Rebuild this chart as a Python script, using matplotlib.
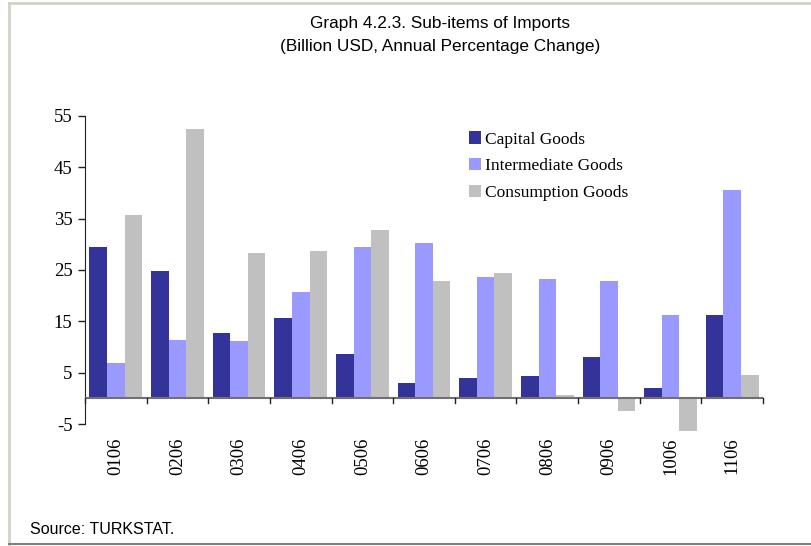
import numpy as np
import matplotlib
matplotlib.use("Agg")
import matplotlib.pyplot as plt
from matplotlib.lines import Line2D

months = ["0106", "0206", "0306", "0406", "0506", "0606",
          "0706", "0806", "0906", "1006", "1106"]
capital = [29.5, 24.8, 12.8, 15.7, 8.7, 3.0, 4.0, 4.4, 8.1, 2.1, 16.3]
intermediate = [6.9, 11.4, 11.2, 20.6, 29.5, 30.3, 23.7, 23.3, 22.9, 16.3, 40.6]
consumption = [35.7, 52.5, 28.3, 28.7, 32.8, 22.9, 24.4, 0.7, -2.4, -6.3, 4.6]

series = [("Capital Goods", capital, "#333399"),
          ("Intermediate Goods", intermediate, "#9999FF"),
          ("Consumption Goods", consumption, "#C0C0C0")]

serif = ["Liberation Serif", "DejaVu Serif"]
narrow = ["Liberation Sans Narrow", "Liberation Sans", "DejaVu Sans"]

fig = plt.figure(figsize=(8.12, 5.46), dpi=100)
ax = fig.add_axes([0.1047, 0.2234, 0.835, 0.5646])

x = np.arange(len(months))
w = 0.285
for i, (name, vals, col) in enumerate(series):
    ax.bar(x + (i - 1) * w, vals, width=w, color=col, label=name,
           zorder=2, clip_on=False)

ax.set_xlim(-0.5, len(months) - 0.5)
ax.set_ylim(-5, 55)
ax.set_yticks(range(-5, 56, 10))
ax.set_yticklabels([str(v) for v in range(-5, 56, 10)], family=serif, fontsize=13.5)
ax.tick_params(axis="y", length=5, width=1, color="#222222", pad=4)

# x axis drawn at zero, tick marks between groups
for s in ["top", "right", "bottom"]:
    ax.spines[s].set_visible(False)
ax.spines["left"].set_color("#222222")
ax.axhline(0, color="#707070", lw=1.5, zorder=3)
ax.set_xticks([])
for b in np.arange(-0.5, len(months), 1.0):
    ax.plot([b, b], [0, -0.9], color="#222222", lw=1, clip_on=False, zorder=3)
for xi, lab in zip(x, months):
    ax.text(xi, -7.6, lab, rotation=90, ha="center", va="top",
            family=serif, fontsize=13.5)

leg = ax.legend(loc="upper left", bbox_to_anchor=(0.543, 1.0), frameon=False,
                prop={"family": serif, "size": 12.5}, handlelength=0.7,
                handleheight=0.7, handletextpad=0.25, labelspacing=0.62)

fig.text(0.542, 0.957, "Graph 4.2.3. Sub-items of Imports", ha="center",
         va="center", family=narrow, fontsize=12.4)
fig.text(0.542, 0.914, "(Billion USD, Annual Percentage Change)", ha="center",
         va="center", family=narrow, fontsize=12.4)
fig.text(0.037, 0.03, "Source: TURKSTAT.", ha="left", va="center",
         family=narrow, fontsize=11.5)

# outer frame
fig.add_artist(Line2D([0.0105, 0.0105], [0.002, 0.995], color="#d4d0c8", lw=2,
                      transform=fig.transFigure))
fig.add_artist(Line2D([0.0105, 1.0], [0.995, 0.995], color="#d4d0c8", lw=2,
                      transform=fig.transFigure))
fig.add_artist(Line2D([0.0105, 1.0], [0.003, 0.003], color="#808080", lw=1.5,
                      transform=fig.transFigure))

fig.savefig("out.png", dpi=100)
